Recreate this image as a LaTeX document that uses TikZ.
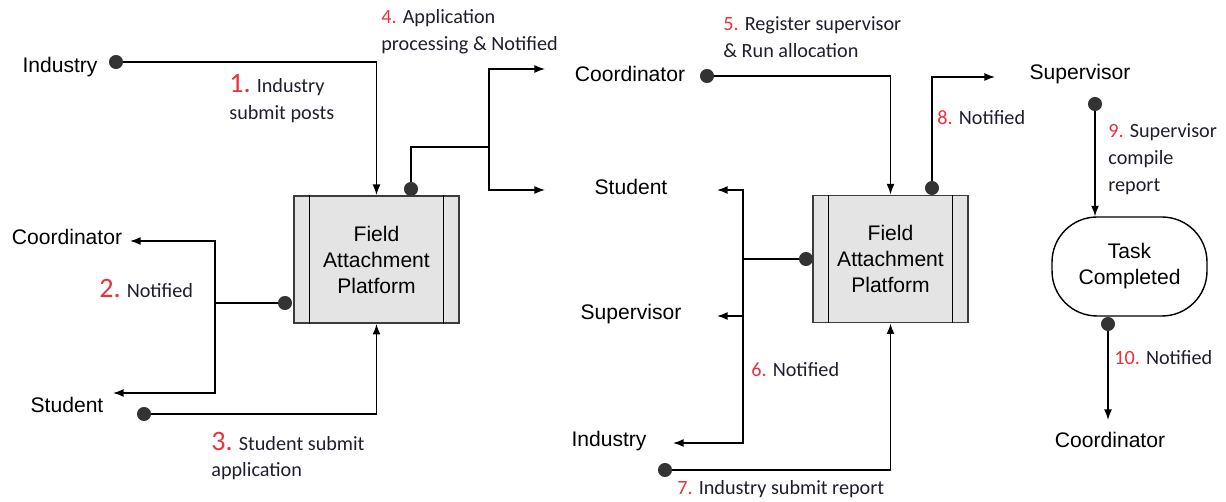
\documentclass[tikz,border=0pt]{standalone}
\usepackage{fontspec}
\setmainfont{Liberation Sans}
\newfontfamily\calibrifont{Carlito}
\usetikzlibrary{arrows.meta}

\definecolor{boxgray}{HTML}{E4E4E4}
\definecolor{edgegray}{HTML}{3C3C3C}
\definecolor{dotgray}{HTML}{333333}
\definecolor{stepred}{HTML}{E8323C}
\definecolor{stepink}{HTML}{1E1E2C}

\tikzset{
	actor/.style={font=\fontsize{12}{14.5}\selectfont, inner sep=0pt},
	platform/.style={draw=edgegray, line width=1.1pt, fill=boxgray, minimum width=3.3cm, minimum height=2.54cm, align=center, font=\fontsize{12}{14.8}\selectfont},
	taskbox/.style={draw, line width=0.8pt, rounded corners=0.9cm, minimum width=3.1cm, minimum height=1.98cm, align=center, font=\fontsize{12}{14.8}\selectfont},
	dot/.style={circle, fill=dotgray, inner sep=0pt, minimum size=8pt},
	link/.style={line width=0.8pt},
	flow/.style={link, -{Latex[length=6pt,width=4.5pt]}},
	steplbl/.style={font=\calibrifont\fontsize{11.5}{15.3}\selectfont, text=stepink, align=left, anchor=west, inner sep=0pt},
}
\newcommand{\stepno}[1]{\textcolor{stepred}{#1}}
\newcommand{\bigstepno}[1]{{\fontsize{16}{16}\selectfont\textcolor{stepred}{#1}}}

\begin{document}
\begin{tikzpicture}[x=0.02cm,y=-0.02cm]
	\useasboundingbox (0,0) rectangle (1226,502);

	\node[actor] (ind1) at (60,67) {Industry};
	\node[actor] (co1) at (67,237) {Coordinator};
	\node[actor] (stu1) at (67,405) {Student};
	\node[platform] (p1) at (376.5,259.5) {Field\\Attachment\\Platform};

	\node[actor] (co2) at (630,74) {Coordinator};
	\node[actor] (stu2) at (631,187) {Student};
	\node[actor] (sup2) at (631,314) {Supervisor};
	\node[actor] (ind2) at (609,441) {Industry};
	\node[platform, minimum width=3.1cm] (p2) at (890.5,259) {Field\\Attachment\\Platform};

	\node[actor] (sup3) at (1080,74) {Supervisor};
	\node[taskbox] (task) at (1129.5,266.5) {Task\\Completed};
	\node[actor] (co3) at (1110,440) {Coordinator};

	\foreach \p in {p1,p2} {
		\draw[black, line width=0.9pt] ([xshift=0.33cm]\p.north west) -- ([xshift=0.33cm]\p.south west);
		\draw[black, line width=0.9pt] ([xshift=-0.33cm]\p.north east) -- ([xshift=-0.33cm]\p.south east);
	}

	\node[dot] (ind1d) at (116,62) {};
	\node[dot] (stu1d) at (144,414) {};
	\node[dot] (p1top) at (411,189) {};
	\node[dot] (p1left) at (285,303) {};
	\node[dot] (co2d) at (707,76) {};
	\node[dot] (ind2d) at (665,470) {};
	\node[dot] (p2top) at (932,188) {};
	\node[dot] (p2left) at (806,259) {};
	\node[dot] (sup3d) at (1095,104) {};
	\node[dot] (taskd) at (1108,324) {};

	\coordinate (j2) at (215,303);
	\coordinate (c2a) at (130,241);
	\coordinate (c2b) at (113,393);
	\coordinate (j4) at (489,147);
	\coordinate (c4a) at (545,69);
	\coordinate (c4b) at (545,190);
	\coordinate (j6) at (743,259);
	\coordinate (c6a) at (717,190);
	\coordinate (c6b) at (717,316);
	\coordinate (c6c) at (673,443);
	\coordinate (c8) at (995,77);
	\coordinate (c10) at (1108,420);

	\draw[flow] (ind1d) -| (p1);
	\draw[link] (p1left) -- (j2);
	\draw[flow] (j2) |- (c2a);
	\draw[flow] (j2) |- (c2b);
	\draw[flow] (stu1d) -| (p1);
	\draw[link] (p1top) |- (j4);
	\draw[flow] (j4) |- (c4a);
	\draw[flow] (j4) |- (c4b);

	\draw[flow] (co2d) -| (p2);
	\draw[link] (p2left) -- (j6);
	\draw[flow] (j6) |- (c6a);
	\draw[flow] (j6 |- c6b) -- (c6b);
	\draw[flow] (j6) |- (c6c);
	\draw[flow] (ind2d) -| (p2);
	\draw[flow] (p2top) |- (c8);

	\draw[flow] (sup3d) -- (sup3d |- task.north);
	\draw[flow] (taskd) -- (c10);

	\node[steplbl] (l1) at (229,99) {\bigstepno{1.} Industry\\submit posts};
	\node[steplbl] (l2) at (99,288) {\bigstepno{2.} Notified};
	\node[steplbl] (l3) at (211,456) {\bigstepno{3.} Student submit\\application};
	\node[steplbl] (l4) at (381,32) {\stepno{4.} Application\\processing \& Notified};
	\node[steplbl] (l5) at (723,37) {\stepno{5.} Register supervisor\\\& Run allocation};
	\node[steplbl] (l6) at (751,370) {\stepno{6.} Notified};
	\node[steplbl] (l7) at (677,489) {\stepno{7.} Industry submit report};
	\node[steplbl] (l8) at (937,118) {\stepno{8.} Notified};
	\node[steplbl] (l9) at (1108,159) {\stepno{9.} Supervisor\\compile\\report};
	\node[steplbl] (l10) at (1114,358) {\stepno{10.} Notified};
\end{tikzpicture}
\end{document}
